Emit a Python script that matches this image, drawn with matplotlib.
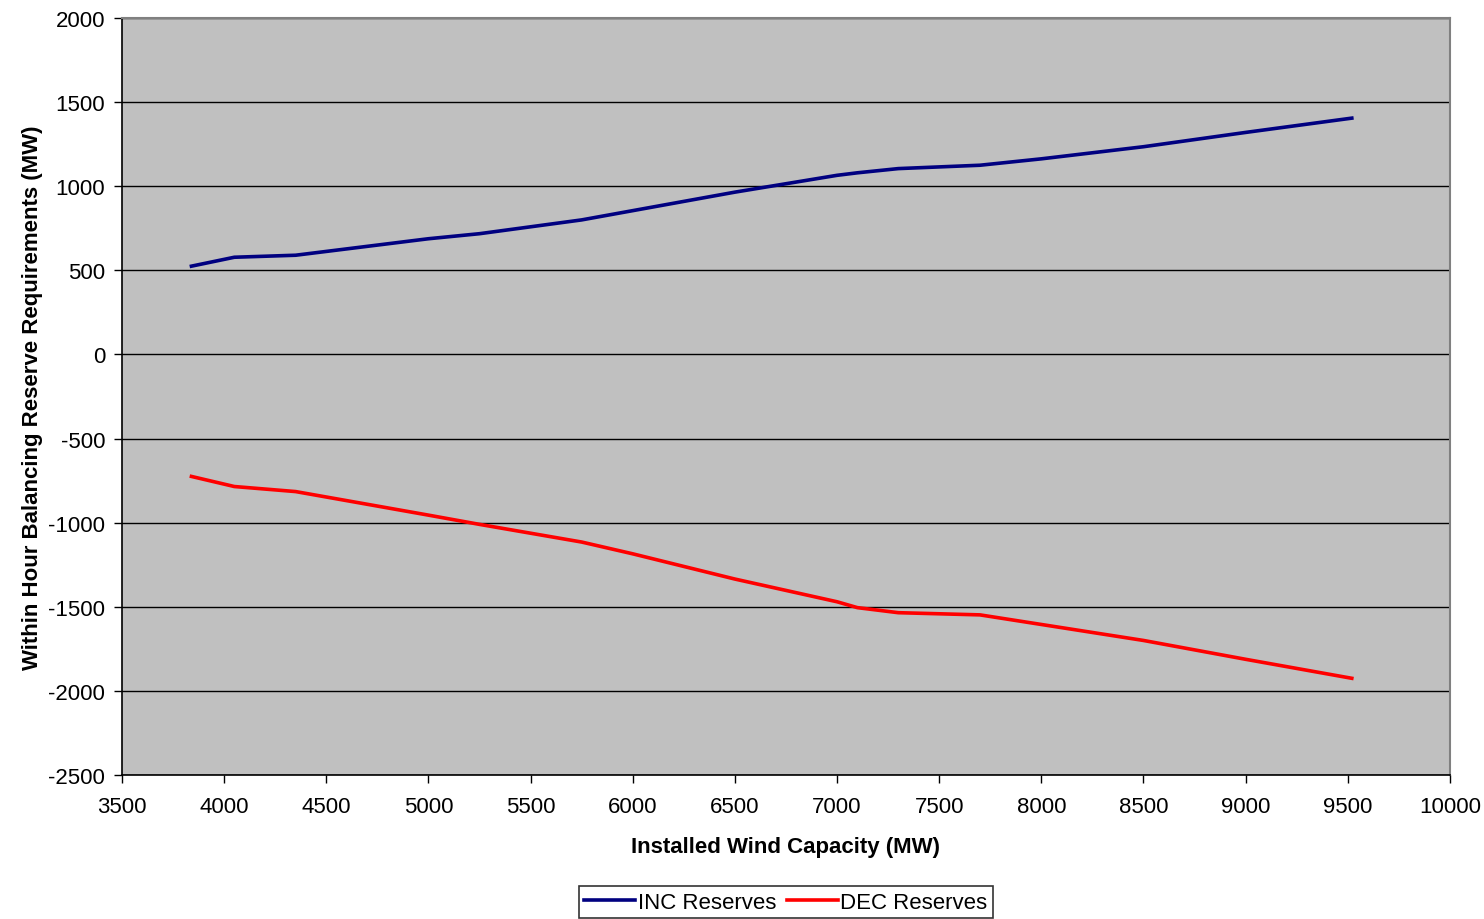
import matplotlib
matplotlib.use("Agg")
import matplotlib.pyplot as plt

capacity_inc = [3840, 4050, 4350, 5000, 5250, 5750, 6000, 6500, 7000, 7100, 7300, 7700, 8000, 8500, 9000, 9520]
inc_reserves = [525, 578, 590, 688, 718, 800, 855, 965, 1065, 1080, 1105, 1125, 1163, 1235, 1320, 1405]
capacity_dec = [3840, 4050, 4350, 5000, 5250, 5750, 6000, 6500, 7000, 7100, 7300, 7700, 8000, 8500, 9000, 9520]
dec_reserves = [-725, -785, -815, -955, -1010, -1115, -1185, -1335, -1470, -1505, -1535, -1548, -1605, -1700, -1812, -1925]
x_ticks = [3500, 4000, 4500, 5000, 5500, 6000, 6500, 7000, 7500, 8000, 8500, 9000, 9500, 10000]
y_ticks = [-2500, -2000, -1500, -1000, -500, 0, 500, 1000, 1500, 2000]

plt.rcParams['font.family'] = ['Liberation Sans', 'DejaVu Sans']

fig = plt.figure(figsize=(14.84, 9.2), dpi=100)
ax = fig.add_axes([0.0822, 0.1565, 0.8948, 0.8228])
ax.set_facecolor('#C0C0C0')

ax.plot(capacity_inc, inc_reserves, color='#000080', lw=2.6, label='INC Reserves', zorder=3)
ax.plot(capacity_dec, dec_reserves, color='#FF0000', lw=2.6, label='DEC Reserves', zorder=3)

ax.set_xlim(3500, 10000)
ax.set_ylim(-2500, 2000)
ax.set_xticks(x_ticks)
ax.set_yticks(y_ticks)
ax.set_xticklabels([str(v) for v in x_ticks])
ax.set_yticklabels([str(v) for v in y_ticks])
ax.yaxis.grid(True, color='black', lw=1.0)
ax.set_axisbelow(True)
ax.tick_params(axis='both', direction='out', length=6, width=1, color='black', labelsize=16)
ax.tick_params(axis='x', pad=9)
ax.tick_params(axis='y', pad=6)

for s in ['left', 'bottom']:
    ax.spines[s].set_color('black')
    ax.spines[s].set_linewidth(1.2)
for s in ['top', 'right']:
    ax.spines[s].set_color('#808080')
    ax.spines[s].set_linewidth(1.5)

ax.set_xlabel('Installed Wind Capacity (MW)', fontsize=16, fontweight='bold', labelpad=14)
ax.set_ylabel('Within Hour Balancing Reserve Requirements (MW)', fontsize=16, fontweight='bold', labelpad=4)

leg = ax.legend(loc='lower center', bbox_to_anchor=(0.5, -0.204), ncol=2, frameon=True,
                fancybox=False, edgecolor='black', fontsize=16, handlelength=2.3,
                handletextpad=0.1, columnspacing=0.5, borderpad=0.25)
leg.get_frame().set_linewidth(1.2)

fig.savefig('out.png', dpi=100, facecolor='white')
